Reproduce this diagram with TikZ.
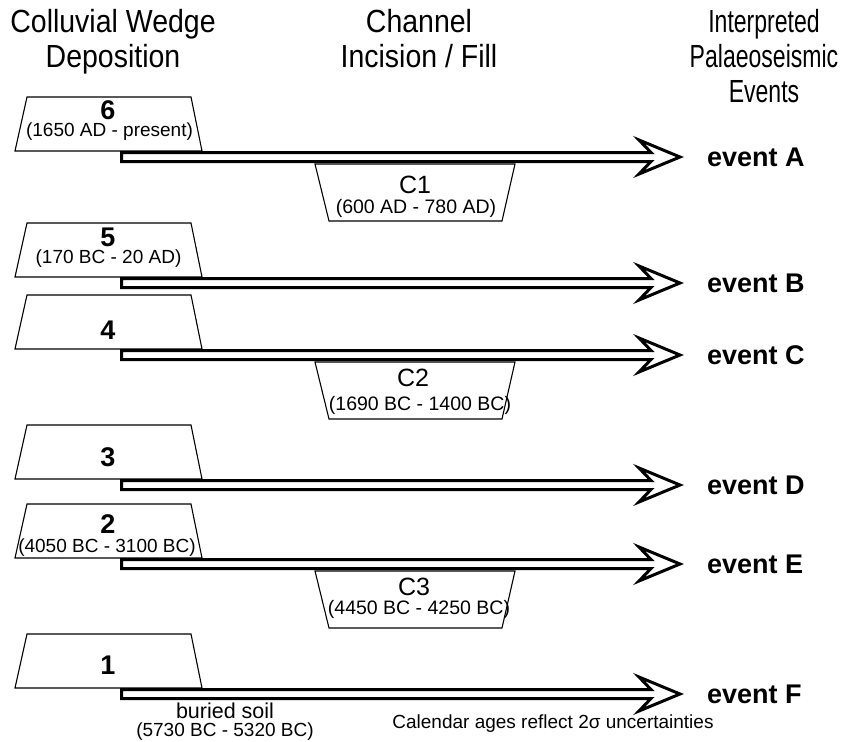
\documentclass[tikz,border=0pt]{standalone}
\usepackage{fontspec}
\setmainfont{Liberation Sans}
\newfontfamily\narrowsf[FakeStretch=0.89]{Liberation Sans}
\newfontfamily\tightsf[FakeStretch=0.72]{Liberation Sans}
\usetikzlibrary{calc}

\tikzset{
  head/.style={font=\narrowsf\fontsize{32}{35}\selectfont, align=center, anchor=north, inner sep=0pt},
  wedge/.style={minimum width=187pt, minimum height=54pt, inner sep=0pt, outer sep=0pt},
  channel/.style={minimum width=200pt, minimum height=57pt, inner sep=0pt, outer sep=0pt},
  outline/.style={draw, line width=1.1pt, line join=miter},
  wnum/.style={font=\bfseries\fontsize{27}{29}\selectfont, inner sep=0pt},
  wdate/.style={font=\fontsize{19}{21}\selectfont, inner sep=0pt},
  cnum/.style={font=\fontsize{25}{27}\selectfont, inner sep=0pt},
  cdate/.style={font=\fontsize{19.5}{21}\selectfont, inner sep=0pt},
  event/.style={font=\bfseries\fontsize{27}{29}\selectfont, anchor=west, inner sep=0pt},
  evarrow/.style={draw, fill=white, line width=3pt, line join=miter}
}

\begin{document}
\begin{tikzpicture}[x=1pt,y=-1pt]
\useasboundingbox (0,0) rectangle (844,742);

\node[head] (hwedge) at (113,9) {Colluvial Wedge\\Deposition};
\node[head] (hchan) at (419,9) {Channel\\Incision / Fill};
\node[head, font=\tightsf\fontsize{32}{35}\selectfont] (hev) at (764,9) {Interpreted\\Palaeoseismic\\Events};

\node[wedge] (w6) at (108.5,124) {};
\node[wedge] (w5) at (108.5,250) {};
\node[wedge] (w4) at (108.5,322) {};
\node[wedge] (w3) at (108.5,452) {};
\node[wedge] (w2) at (108.5,531) {};
\node[wedge] (w1) at (108.5,661) {};

\foreach \w in {w1,w2,w3,w4,w5,w6}
  \draw[outline] (\w.south west) -- ([xshift=12pt]\w.north west)
    -- ([xshift=-11pt]\w.north east) -- (\w.south east) -- cycle;

\node[wnum] (n6) at (108,110) {6};
\node[wdate] (d6) at (109.5,132) {(1650 AD - present)};
\node[wnum] (n5) at (108,237) {5};
\node[wdate] (d5) at (108.5,259) {(170 BC - 20 AD)};
\node[wnum] (n4) at (108,330) {4};
\node[wnum] (n3) at (108,457) {3};
\node[wnum] (n2) at (108,524) {2};
\node[wdate] (d2) at (107,547.5) {(4050 BC - 3100 BC)};
\node[wnum] (n1) at (108,665) {1};

\node[event] (evA) at (707,157) {event A};
\node[event] (evB) at (707,283) {event B};
\node[event] (evC) at (707,355) {event C};
\node[event] (evD) at (707,485) {event D};
\node[event] (evE) at (707,564) {event E};
\node[event] (evF) at (707,694) {event F};

\foreach \w/\e in {w6/evA,w5/evB,w4/evC,w3/evD,w2/evE,w1/evF}
  \draw[evarrow] let \p1=([shift={(13pt,-6pt)}]\w.south), \p2=([xshift=-27pt]\e.west) in
    (\x1,\y1+4.5pt) -- (\x2-29pt,\y1+4.5pt) -- (\x2-41pt,\y1+17pt) -- (\x2,\y1)
    -- (\x2-41pt,\y1-17pt) -- (\x2-29pt,\y1-4.5pt) -- (\x1,\y1-4.5pt) -- cycle;

\node[channel] (c1) at (415,192.5) {};
\node[channel] (c2) at (415,390.5) {};
\node[channel] (c3) at (415,599.5) {};

\foreach \c in {c1,c2,c3}
  \draw[outline] (\c.north west) -- (\c.north east)
    -- ([xshift=-13pt]\c.south east) -- ([xshift=14pt]\c.south west) -- cycle;

\node[cnum] (k1) at (415,185) {C1};
\node[cdate] (e1) at (416,208) {(600 AD - 780 AD)};
\node[cnum] (k2) at (413,378) {C2};
\node[cdate] (e2) at (420,405) {(1690 BC - 1400 BC)};
\node[cnum] (k3) at (414,587) {C3};
\node[cdate] (e3) at (419,609) {(4450 BC - 4250 BC)};

\node[font=\fontsize{21.5}{23}\selectfont, inner sep=0pt] (soil) at (225,711) {buried soil};
\node[wdate] (soildate) at (225,732) {(5730 BC - 5320 BC)};
\node[wdate] (note) at (553,724) {Calendar ages reflect 2σ uncertainties};
\end{tikzpicture}
\end{document}
